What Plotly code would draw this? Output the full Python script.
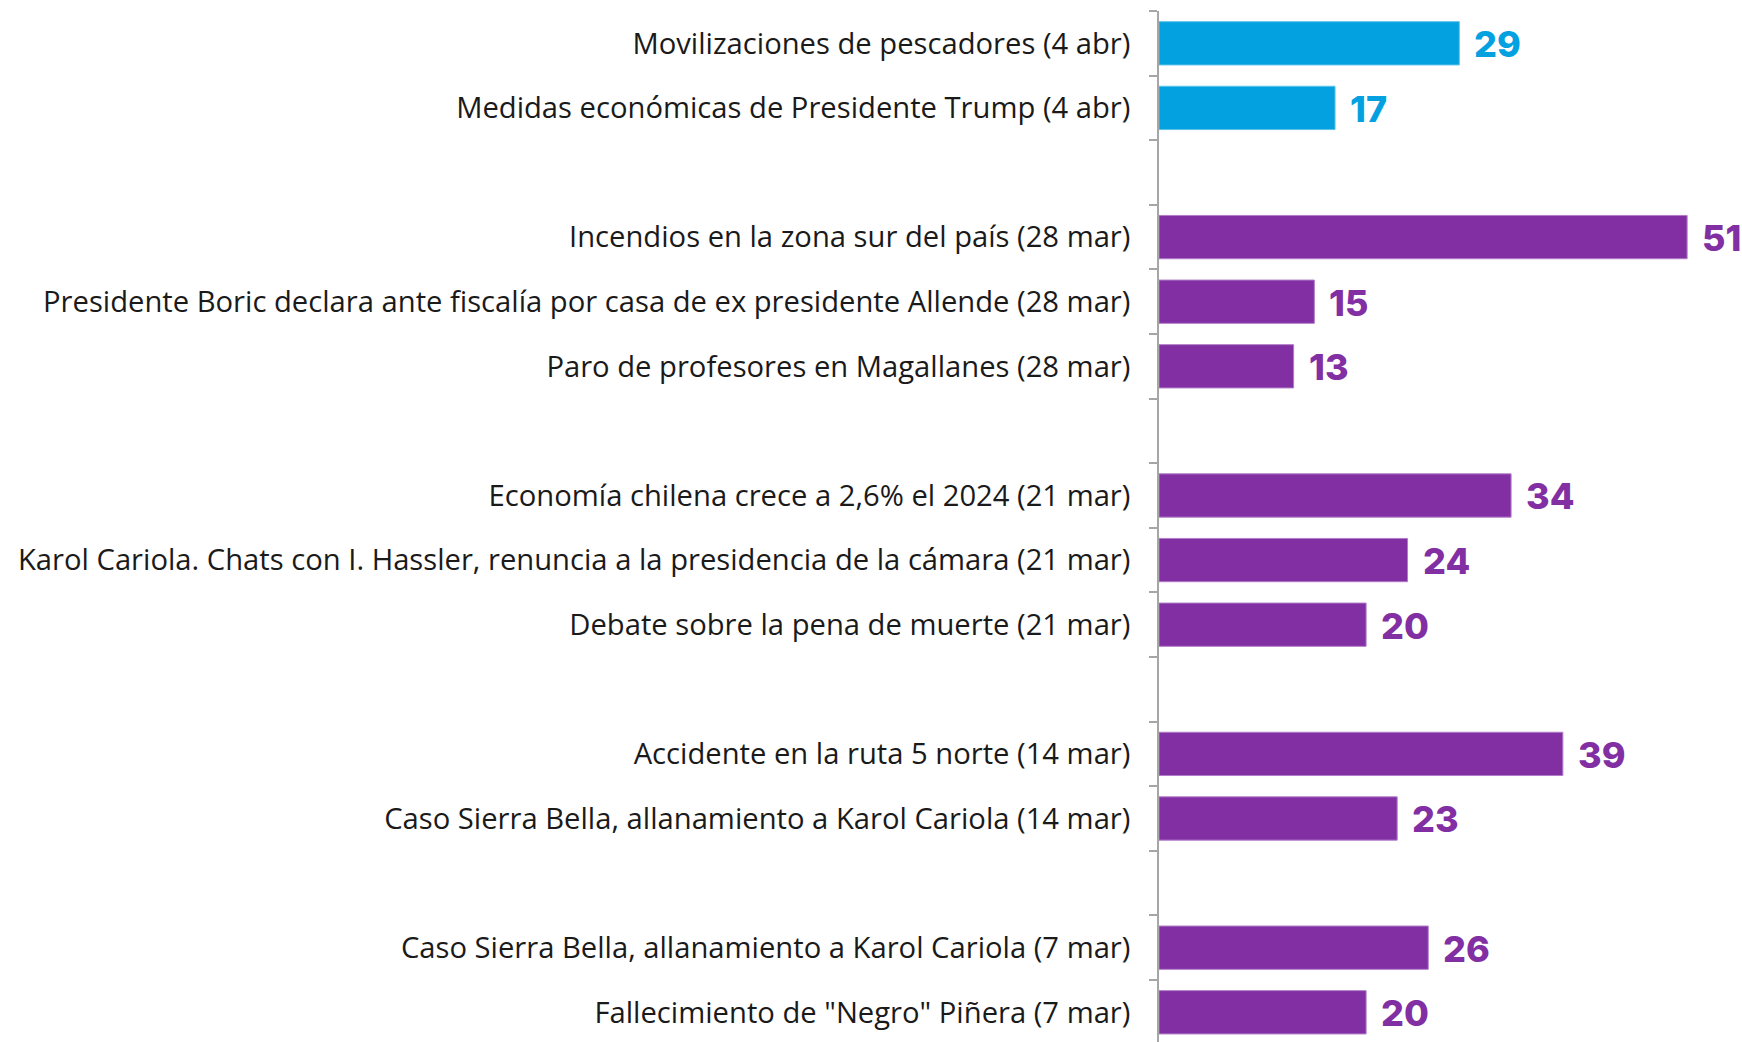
import plotly.graph_objects as go

categories = [
    "Movilizaciones de pescadores (4 abr)",
    "Medidas económicas de Presidente Trump (4 abr)",
    " ",
    "Incendios en la zona sur del país (28 mar)",
    "Presidente Boric declara ante fiscalía por casa de ex presidente Allende (28 mar)",
    "Paro de profesores en Magallanes (28 mar)",
    "  ",
    "Economía chilena crece a 2,6% el 2024 (21 mar)",
    "Karol Cariola. Chats con I. Hassler, renuncia a la presidencia de la cámara (21 mar)",
    "Debate sobre la pena de muerte (21 mar)",
    "   ",
    "Accidente en la ruta 5 norte (14 mar)",
    "Caso Sierra Bella, allanamiento a Karol Cariola (14 mar)",
    "    ",
    "Caso Sierra Bella, allanamiento a Karol Cariola (7 mar)",
    "Fallecimiento de \"Negro\" Piñera (7 mar)",
]
values = [29, 17, None, 51, 15, 13, None, 34, 24, 20, None, 39, 23, None, 26, 20]
is_latest_week = [True, True, False, False, False, False, False, False, False,
                  False, False, False, False, False, False, False]

BLUE = "#03A1DF"
PURPLE = "#812FA3"
BLUE_EDGE = "#5CC2EA"
PURPLE_EDGE = "#B07CC8"

colors = [BLUE if w else PURPLE for w in is_latest_week]
edges = [BLUE_EDGE if w else PURPLE_EDGE for w in is_latest_week]

fig = go.Figure()
fig.add_trace(go.Bar(
    x=values, y=categories, orientation="h",
    marker=dict(color=colors, line=dict(color=edges, width=1)),
    hoverinfo="skip",
))

annotations = []
for c, v, col in zip(categories, values, colors):
    if v is None:
        continue
    annotations.append(dict(
        x=v, y=c, xref="x", yref="y", text=str(v), showarrow=False,
        xanchor="left", yanchor="middle", xshift=13, yshift=-1,
        font=dict(family="Inter", size=36, color=col, weight=800),
    ))

fig.update_layout(
    width=1742, height=1042,
    margin=dict(l=1159, r=0, t=11, b=0),
    paper_bgcolor="white", plot_bgcolor="white",
    bargap=0.33,
    showlegend=False,
    annotations=annotations,
    font=dict(family="Open Sans", color="#1A1A1A"),
)
fig.update_xaxes(range=[0, 56.3], visible=False, showgrid=False, zeroline=False)
fig.update_yaxes(
    type="category",
    categoryorder="array", categoryarray=categories,
    range=[15.46, -0.5],
    tickson="boundaries",
    ticks="outside", ticklen=8, tickcolor="#A6A6A6", tickwidth=1.5,
    showline=True, linecolor="#A6A6A6", linewidth=1.5,
    showgrid=False, zeroline=False,
    tickfont=dict(family="Open Sans", size=29.2, color="#1A1A1A"),
    ticklabelstandoff=21,
)

fig.write_html(
    "out.html",
    config={"displayModeBar": False},
    post_script="document.body.style.margin='0';document.body.style.overflow='hidden';",
)
